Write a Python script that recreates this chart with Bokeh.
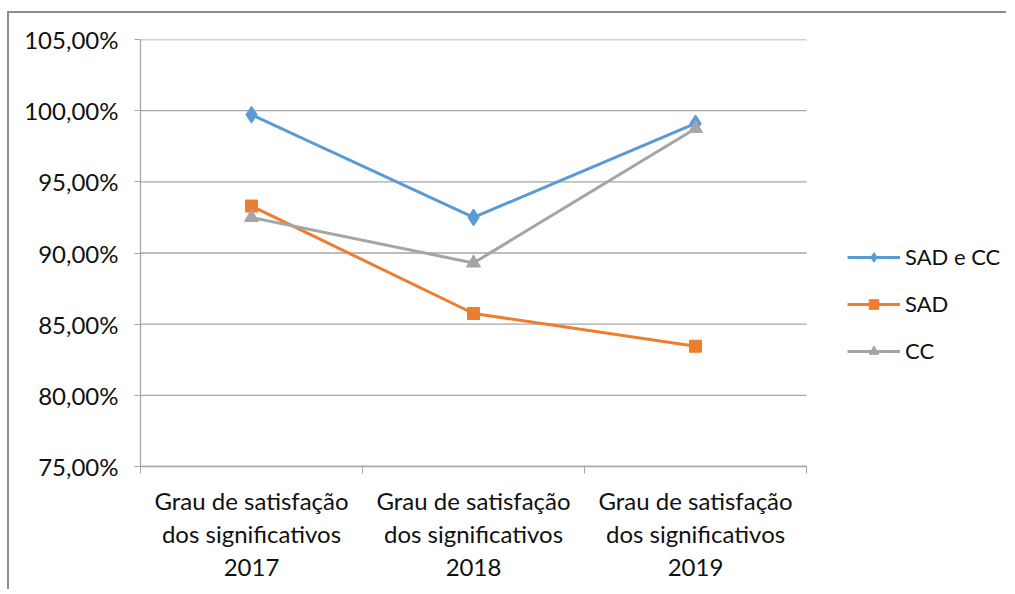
from bokeh.plotting import figure
from bokeh.models import FixedTicker, Legend, LegendItem, Range1d
from bokeh.embed import file_html
from bokeh.resources import INLINE

categories = [
    "Grau de satisfação\ndos significativos\n2017",
    "Grau de satisfação\ndos significativos\n2018",
    "Grau de satisfação\ndos significativos\n2019",
]
x_pos = [0.5, 1.5, 2.5]
category_edges = [0, 1, 2, 3]
sad_e_cc = [99.72, 92.5, 99.1]
sad = [93.3, 85.75, 83.45]
cc = [92.5, 89.3, 98.75]
y_ticks = [75, 80, 85, 90, 95, 100, 105]
y_tick_labels = ["75,00%", "80,00%", "85,00%", "90,00%", "95,00%", "100,00%", "105,00%"]

FONT = "Lato"
GRID = "#a6a6a6"
TXT = "#111111"

# frame extends to the right so the legend (drawn inside it) is not clipped;
# the plotting area proper spans the three categories [0, 3]
p = figure(
    width=999, height=578, output_backend="svg", toolbar_location=None,
    x_range=Range1d(0, 3.896), y_range=Range1d(75, 105),
    min_border_left=131, min_border_top=26, min_border_right=3, min_border_bottom=125,
)
p.outline_line_color = None
p.xgrid.grid_line_color = None
p.ygrid.grid_line_color = None

p.styles = {"border-left": "2px solid #8f8f8f", "border-top": "2px solid #8f8f8f",
            "margin-left": "7px", "margin-top": "11px"}

# horizontal gridlines limited to the category area
n = len(y_ticks)
p.segment(x0=[category_edges[0]] * n, x1=[category_edges[-1]] * n, y0=y_ticks, y1=y_ticks,
          line_color=GRID, line_width=1.3)

# x axis
p.xaxis.bounds = (category_edges[0], category_edges[-1])
p.xaxis.ticker = FixedTicker(ticks=x_pos, minor_ticks=category_edges)
p.xaxis.major_label_overrides = {x: c for x, c in zip(x_pos, categories)}
p.xaxis.major_tick_out = 0
p.xaxis.major_tick_in = 0
p.xaxis.minor_tick_out = 7
p.xaxis.minor_tick_in = 0
p.xaxis.minor_tick_line_color = GRID
p.xaxis.axis_line_color = GRID
p.xaxis.axis_line_width = 1.3
p.xaxis.major_label_standoff = 12
p.xaxis.major_label_text_font = FONT
p.xaxis.major_label_text_font_size = "24px"
p.xaxis.major_label_text_color = TXT
p.xaxis.major_label_text_line_height = 1.15

# y axis
p.yaxis.ticker = FixedTicker(ticks=y_ticks)
p.yaxis.major_label_overrides = {t: l for t, l in zip(y_ticks, y_tick_labels)}
p.yaxis.major_tick_out = 6
p.yaxis.major_tick_in = 0
p.yaxis.minor_tick_line_color = None
p.yaxis.major_tick_line_color = GRID
p.yaxis.axis_line_color = GRID
p.yaxis.axis_line_width = 1.3
p.yaxis.major_label_standoff = 16
p.yaxis.major_label_text_font = FONT
p.yaxis.major_label_text_font_size = "24px"
p.yaxis.major_label_text_color = TXT

blue, orange, gray = "#5b9bd5", "#ed7d31", "#a5a5a5"

l1 = p.line(x_pos, sad_e_cc, line_color=blue, line_width=3)
m1 = p.scatter(x_pos, sad_e_cc, marker="diamond", size=17, color=blue)
l2 = p.line(x_pos, sad, line_color=orange, line_width=3)
m2 = p.scatter(x_pos, sad, marker="square", size=12, color=orange)
l3 = p.line(x_pos, cc, line_color=gray, line_width=3)
m3 = p.scatter(x_pos, cc, marker="triangle", size=14, color=gray)

legend = Legend(
    items=[
        LegendItem(label="SAD e CC", renderers=[l1, m1]),
        LegendItem(label="SAD", renderers=[l2, m2]),
        LegendItem(label="CC", renderers=[l3, m3]),
    ],
    location=(707, 102),
    glyph_width=53, glyph_height=24, label_height=24,
    label_standoff=5, spacing=20, padding=0, margin=0,
    border_line_color=None, background_fill_alpha=0,
    label_text_font=FONT, label_text_font_size="22px", label_text_color=TXT,
)
p.add_layout(legend, "center")

open("out.html", "w").write(file_html(p, INLINE))
